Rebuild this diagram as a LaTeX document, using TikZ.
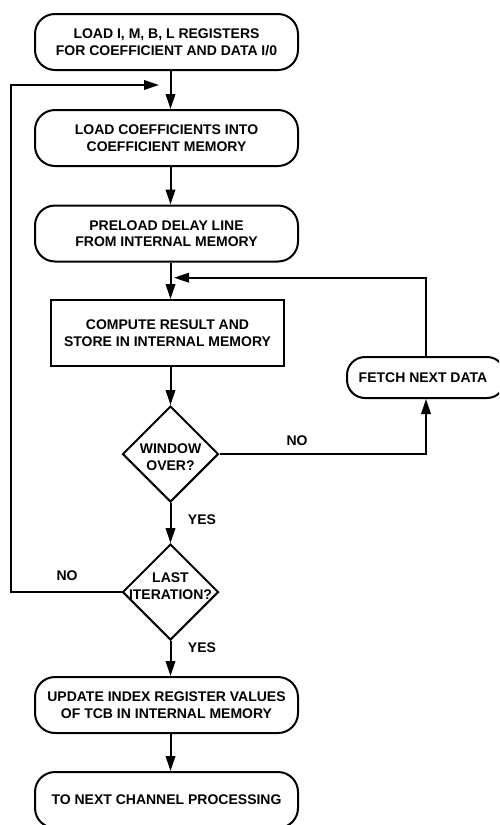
\documentclass[tikz,border=0pt]{standalone}
\usepackage{fontspec}
\setmainfont{Liberation Sans}
\usetikzlibrary{shapes.geometric,arrows.meta}
\tikzset{
  txt/.style={font=\fontsize{14}{16.5}\selectfont\bfseries, align=center},
  rbox/.style={txt, draw, line width=2pt, rounded corners=20pt, minimum width=263pt, minimum height=56pt, inner sep=0pt},
  sbox/.style={txt, draw, line width=2pt, minimum width=233pt, minimum height=66pt, inner sep=0pt},
  fbox/.style={txt, draw, line width=2pt, rounded corners=18pt, minimum width=158pt, minimum height=41pt, inner sep=0pt},
  dia/.style={draw, diamond, line width=2pt, minimum width=96pt, minimum height=96pt, inner sep=0pt},
  lbl/.style={txt, inner sep=0pt},
  arr/.style={line width=2pt, -{Triangle[length=15pt,width=9.5pt]}}
}
\begin{document}
\begin{tikzpicture}[x=1pt,y=-1pt]
\clip (0,0) rectangle (499,825);
\fill[white] (0,0) rectangle (499,825);
% nodes
\node[rbox] (b1) at (166.5,42) {LOAD I, M, B, L REGISTERS\\FOR COEFFICIENT AND DATA I/0};
\node[rbox] (b2) at (166.5,138) {LOAD COEFFICIENTS INTO\\COEFFICIENT MEMORY};
\node[rbox] (b3) at (166.5,233.5) {PRELOAD DELAY LINE\\FROM INTERNAL MEMORY};
\node[sbox] (b4) at (167.5,333) {COMPUTE RESULT AND\\STORE IN INTERNAL MEMORY};
\node[fbox] (f) at (426,377.5) {\hspace*{-6pt}FETCH NEXT DATA};
\node[dia] (d1) at (170.5,454) {};
\node[lbl] (t1) at (170.5,457) {WINDOW\\OVER?};
\node[dia] (d2) at (170.5,592) {};
\node[lbl] (t2) at (170.5,586) {LAST\\ITERATION?};
\node[rbox] (b5) at (166.5,705) {UPDATE INDEX REGISTER VALUES\\OF TCB IN INTERNAL MEMORY};
\node[rbox] (b6) at (166.5,800) {TO NEXT CHANNEL PROCESSING};
% labels
\node[lbl] (no1) at (297,441) {NO};
\node[lbl] (yes1) at (202,520) {YES};
\node[lbl] (no2) at (67,576) {NO};
\node[lbl] (yes2) at (202,648) {YES};
% helper coordinates
\coordinate (lx) at (11,0);
\coordinate (j1) at (159,85);
\coordinate (j2) at (174,277.7);
% connectors
\draw[arr] (b1.south -| d1) -- (b2.north -| d1);
\draw[arr] (b2.south -| d1) -- (b3.north -| d1);
\draw[arr] (b3.south -| d1) -- (b4.north -| d1);
\draw[arr] (b4.south -| d1) -- (d1.north);
\draw[arr] (d1.south) -- (d2.north);
\draw[arr] (d2.south) -- (b5.north -| d2);
\draw[arr] (b5.south -| d2) -- (b6.north -| d2);
\draw[arr] (d1.east) -| (f.south);
\draw[arr] (f.north) |- (j2);
\draw[arr] (d2.west) -- (d2.west -| lx) |- (j1);
\end{tikzpicture}
\end{document}
